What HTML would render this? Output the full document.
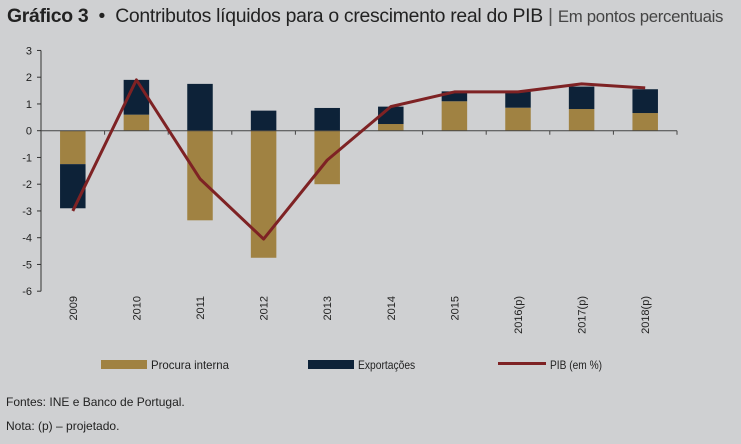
<!DOCTYPE html>
<html><head><meta charset="utf-8"><style>
body{margin:0;background:#cfd0d2;}
#wrap{position:relative;width:741px;height:444px;background:#cfd0d2;font-family:"Liberation Sans",sans-serif;overflow:hidden}
.t{position:absolute;white-space:nowrap;color:#222}
.n{font-family:"Liberation Sans Narrow","Liberation Sans",sans-serif}
</style></head><body>
<div id="wrap">
<div class="t" style="left:7px;top:5px;font-size:19.4px;color:#222;letter-spacing:-0.3px"><b>Gráfico 3</b> &nbsp;•&nbsp; Contributos líquidos para o crescimento real do PIB <span style="color:#555">|</span> <span style="font-size:16.8px;color:#444">Em pontos percentuais</span></div>
<svg id="chart" width="741" height="444" style="position:absolute;left:0;top:0"></svg>
<div class="t n" style="left:6px;top:395px;font-size:12px">Fontes: INE e Banco de Portugal.</div>
<div class="t n" style="left:6px;top:419px;font-size:12px">Nota: (p) – projetado.</div>
</div>
<script>
const categories=["2009","2010","2011","2012","2013","2014","2015","2016(p)","2017(p)","2018(p)"];
const procura=[-1.25,0.6,-3.35,-4.75,-2.0,0.25,1.1,0.86,0.81,0.66];
const exportacoes=[-1.65,1.3,1.75,0.75,0.85,0.65,0.37,0.6,0.84,0.89];
const pib=[-3.0,1.9,-1.8,-4.05,-1.1,0.9,1.45,1.45,1.75,1.6];
const yTicks=[3,2,1,0,-1,-2,-3,-4,-5,-6];
const NS="http://www.w3.org/2000/svg";
const svg=document.getElementById('chart');
const x0=41,x1=677,bw=(x1-x0)/categories.length;
const y=v=>130.7-v*26.75;
const xc=i=>x0+bw*(i+0.5);
function mk(t,a){const e=document.createElementNS(NS,t);for(const k in a)e.setAttribute(k,a[k]);svg.appendChild(e);return e;}
let ax=mk('line',{x1:x0,x2:x0,y1:y(3),y2:y(-6),stroke:'#333','stroke-width':1});


yTicks.forEach(v=>{
 const tk=mk('line',{x1:x0-4,x2:x0,y1:y(v),y2:y(v),stroke:'#333'});
 
 
 const tx=mk('text',{x:x0-9,y:y(v)+4,'text-anchor':'end','font-size':11,fill:'#222','font-family':'Liberation Sans, sans-serif'});
 tx.textContent=v;
 
 
});
const bwid=25.5;
categories.forEach((c,i)=>{
 let pos=0,neg=0;
 [[procura[i],'#a08242','bar-procura-interna'],[exportacoes[i],'#0d2238','bar-exportacoes']].forEach(([v,col,name])=>{
  let b,t;
  if(v>=0){b=pos;t=pos+v;pos=t;}else{b=neg;t=neg+v;neg=t;}
  const r=mk('rect',{x:xc(i)-bwid/2,width:bwid,y:Math.min(y(b),y(t)),height:Math.abs(y(t)-y(b)),fill:col});
  
  
 });
 const lb=mk('text',{'font-size':11,fill:'#222','font-family':'Liberation Sans, sans-serif','text-anchor':'end',transform:`translate(${xc(i)+4},296) rotate(-90)`});
 lb.textContent=c;
 
 
});
let xa=mk('line',{x1:x0,x2:x1,y1:y(0),y2:y(0),stroke:'#444','stroke-width':1});


for(let i=1;i<=categories.length;i++){
 const tk=mk('line',{x1:x0+bw*i,x2:x0+bw*i,y1:y(0),y2:y(0)+4,stroke:'#444'});
 
 
}
const line=mk('polyline',{points:pib.map((v,i)=>xc(i)+','+y(v)).join(' '),fill:'none',stroke:'#7e2224','stroke-width':3,'stroke-linejoin':'round'});


function leg(x,col,txt,isLine,name){
 const s=isLine?mk('rect',{x:x,y:362,width:48,height:3,fill:col}):mk('rect',{x:x,y:360,width:46,height:9,fill:col});
 
 
 const t=mk('text',{x:x+(isLine?52:50),y:369,'font-size':12,fill:'#222','font-family':'Liberation Sans Narrow, Liberation Sans, sans-serif',textLength:isLine?52:(txt.length*5.2),lengthAdjust:'spacingAndGlyphs'});
 t.textContent=txt;
 
 
}
leg(101,'#a08242','Procura interna',false,'legend-procura');
leg(308,'#0d2238','Exportações',false,'legend-exportacoes');
leg(498,'#7e2224','PIB (em %)',true,'legend-pib');
</script>
</body></html>
